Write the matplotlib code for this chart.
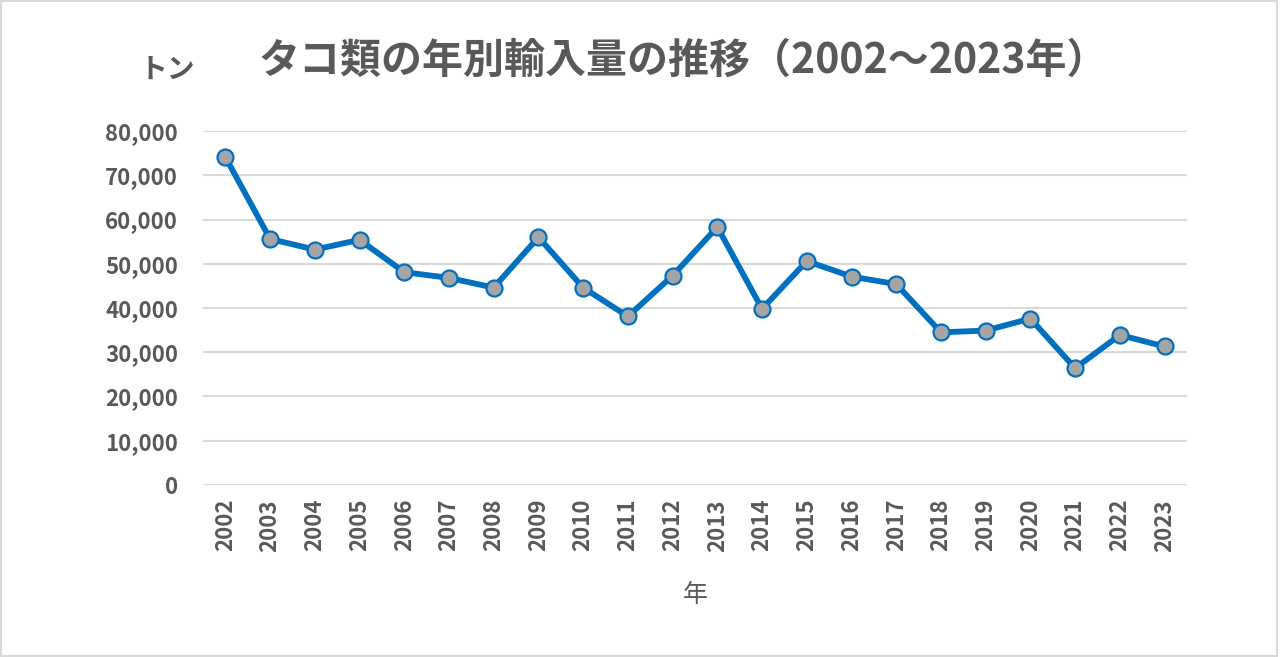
import matplotlib
matplotlib.use('Agg')
import matplotlib.pyplot as plt
from matplotlib.patches import Rectangle
from matplotlib.ticker import FuncFormatter

C_TEXT = '#595959'
C_LINE = '#0070C0'
C_MARK = '#A5A5A5'
C_GRID = '#D9D9D9'

plt.rcParams['font.family'] = ['Noto Sans CJK JP', 'DejaVu Sans']

years = ['2002', '2003', '2004', '2005', '2006', '2007', '2008', '2009', '2010', '2011', '2012',
         '2013', '2014', '2015', '2016', '2017', '2018', '2019', '2020', '2021', '2022', '2023']
imports_t = [74100, 55600, 53200, 55400, 48100, 46800, 44600, 56000, 44600, 38100, 47300,
             58300, 39800, 50600, 47100, 45400, 34500, 34900, 37600, 26400, 33900, 31300]

fig = plt.figure(figsize=(12.8, 6.57), dpi=100)
ax = fig.add_axes([0.1586, 0.2618, 0.7687, 0.5388])

x = range(len(years))
ax.plot(x, imports_t, color=C_LINE, lw=4.2, marker='o', ms=11.5,
        mfc=C_MARK, mec=C_LINE, mew=1.6, zorder=3)

ax.set_xlim(-0.5, len(years) - 0.5)
ax.set_ylim(0, 80000)
ax.set_yticks(range(0, 80001, 10000))
ax.yaxis.set_major_formatter(FuncFormatter(lambda v, p: f'{int(v):,}'))
ax.set_xticks(list(x))
ax.set_xticklabels(years, rotation=90)
ax.grid(axis='y', color=C_GRID, lw=1.5, zorder=0)
for s in ax.spines.values():
    s.set_visible(False)
ax.tick_params(length=0, colors=C_TEXT, labelsize=16)
ax.tick_params(axis='y', pad=18)
ax.tick_params(axis='x', pad=10)
for lab in ax.get_xticklabels() + ax.get_yticklabels():
    lab.set_fontweight('bold')

ax.set_xlabel('年', fontsize=18, color=C_TEXT, labelpad=22)

fig.text(0.534, 0.908, 'タコ類の年別輸入量の推移（2002～2023年）', ha='center', va='center',
         fontsize=29.5, fontweight='bold', color=C_TEXT)
fig.text(0.131, 0.893, 'トン', ha='center', va='center',
         fontsize=20, fontweight='bold', color=C_TEXT)

fig.patches.append(Rectangle((0.001, 0.002), 0.997, 0.996, transform=fig.transFigure,
                             fill=False, ec=C_GRID, lw=1.5))

fig.savefig('out.png', dpi=100, facecolor='white')
